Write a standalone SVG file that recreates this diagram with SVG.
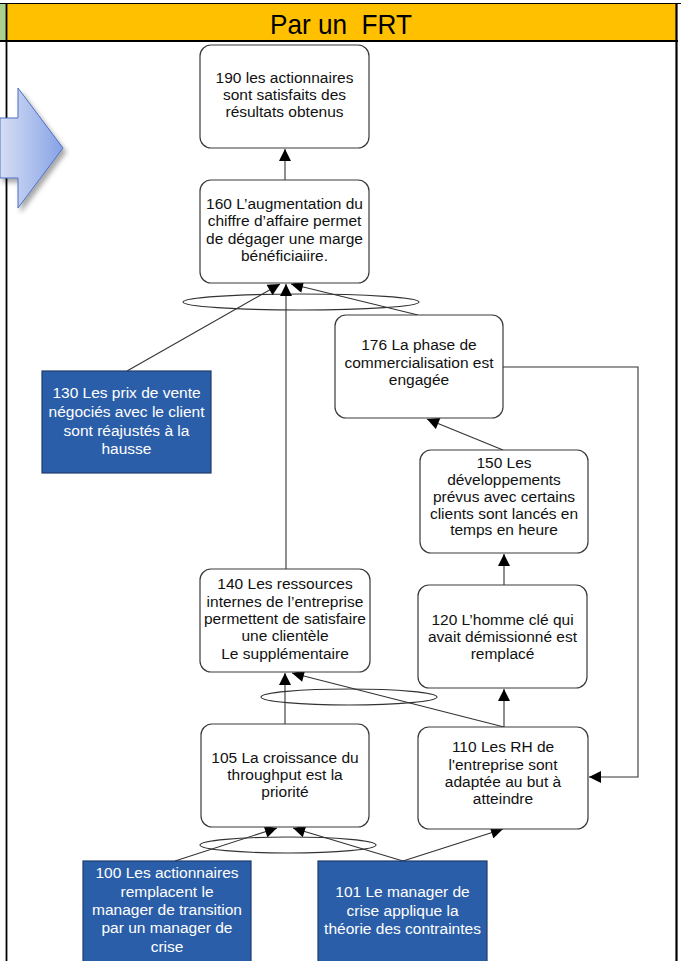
<svg xmlns="http://www.w3.org/2000/svg" width="681" height="961" viewBox="0 0 681 961">
<style>
.nd{fill:#fff;stroke:#3a3a3a;stroke-width:1.2}
.bl{fill:#2b5ea8;stroke:#1d3d6c;stroke-width:1.2}
.t{font-family:"Liberation Sans",Arial,sans-serif;font-size:15.5px;fill:#111;text-anchor:middle}
.tw{font-family:"Liberation Sans",Arial,sans-serif;font-size:15.5px;fill:#fff;text-anchor:middle}
.c{fill:none;stroke:#333;stroke-width:1.1}
.a{marker-end:url(#ah)}
.el{fill:none;stroke:#333;stroke-width:1.1}
</style>
<defs>
<marker id="ah" viewBox="0 0 10 10" refX="10" refY="5" markerWidth="13" markerHeight="12" markerUnits="userSpaceOnUse" orient="auto">
<path d="M0,0 L10,5 L0,10 Z" fill="#000"/>
</marker>
<linearGradient id="ag" x1="0" y1="0" x2="1" y2="0">
<stop offset="0" stop-color="#d6def4"/>
<stop offset="1" stop-color="#86a2e6"/>
</linearGradient>
<filter id="sh" x="-20%" y="-20%" width="150%" height="150%">
<feDropShadow dx="3" dy="4" stdDeviation="2.5" flood-color="#000" flood-opacity="0.35"/>
</filter>
</defs>
<rect width="681" height="961" fill="#fff"/>
<g id="header">
<rect x="0" y="4" width="6" height="37" fill="#a9d08e"/>
<rect x="7" y="4" width="669" height="37" fill="#ffc000"/>
<line x1="0" y1="3.5" x2="681" y2="3.5" stroke="#000" stroke-width="1.2"/>
<line x1="0" y1="41" x2="678" y2="41" stroke="#000" stroke-width="2.2"/>
<line x1="6.5" y1="3" x2="6.5" y2="961" stroke="#000" stroke-width="1.8"/>
<line x1="676.5" y1="3" x2="676.5" y2="961" stroke="#000" stroke-width="2.2"/>
<text x="341" y="34" font-family="'Liberation Sans',Arial,sans-serif" font-size="28" text-anchor="middle" textLength="142" lengthAdjust="spacingAndGlyphs" fill="#000">Par un&#160; FRT</text>
</g>
<g id="bigarrow">
<polygon points="0,118 18,118 18,88 63,148 18,208 18,178 0,178" fill="url(#ag)" stroke="#4d6fc2" stroke-width="1" filter="url(#sh)"/>
</g>
<g id="connectors">
<ellipse class="el" cx="301" cy="302" rx="118" ry="8"/>
<ellipse class="el" cx="349" cy="697" rx="88" ry="8"/>
<ellipse class="el" cx="288" cy="845" rx="88" ry="8"/>
<line class="c a" x1="285" y1="180" x2="285" y2="149"/>
<line class="c a" x1="127" y1="371" x2="280" y2="284"/>
<line class="c a" x1="286" y1="569" x2="286" y2="284"/>
<line class="c a" x1="418" y1="315" x2="291" y2="284"/>
<line class="c a" x1="503" y1="450" x2="427" y2="419"/>
<line class="c a" x1="504" y1="585" x2="504" y2="554"/>
<line class="c a" x1="504" y1="727" x2="504" y2="689"/>
<line class="c a" x1="504" y1="727" x2="292" y2="673"/>
<line class="c a" x1="285" y1="724" x2="285" y2="673"/>
<polyline class="c a" points="503,367 638,367 638,777 589,777"/>
<line class="c a" x1="175" y1="861" x2="277" y2="828"/>
<line class="c a" x1="403" y1="861" x2="293" y2="828"/>
<line class="c a" x1="403" y1="861" x2="503" y2="829"/>
</g>
<g id="n190">
<rect class="nd" x="200" y="45" width="169" height="103" rx="11"/>
<text class="t" x="284.5" y="83">190 les actionnaires</text>
<text class="t" x="284.5" y="100">sont satisfaits des</text>
<text class="t" x="284.5" y="117">résultats obtenus</text>
</g>
<g id="n160">
<rect class="nd" x="200" y="180" width="169" height="103" rx="11"/>
<text class="t" x="284.5" y="208.5">160 L’augmentation du</text>
<text class="t" x="284.5" y="226">chiffre d’affaire permet</text>
<text class="t" x="284.5" y="243.5">de dégager une marge</text>
<text class="t" x="284.5" y="261">bénéficiaiire.</text>
</g>
<g id="n176">
<rect class="nd" x="335" y="315" width="168" height="103" rx="11"/>
<text class="t" x="419" y="350">176 La phase de</text>
<text class="t" x="419" y="367.5">commercialisation est</text>
<text class="t" x="419" y="385">engagée</text>
</g>
<g id="n130">
<rect class="bl" x="42" y="371" width="169" height="102"/>
<text class="tw" x="126.5" y="398">130 Les prix de vente</text>
<text class="tw" x="126.5" y="417">négociés avec le client</text>
<text class="tw" x="126.5" y="436">sont réajustés à la</text>
<text class="tw" x="126.5" y="454">hausse</text>
</g>
<g id="n150">
<rect class="nd" x="420" y="450" width="168" height="103" rx="11"/>
<text class="t" x="504" y="468">150 Les</text>
<text class="t" x="504" y="485">développements</text>
<text class="t" x="504" y="502">prévus avec certains</text>
<text class="t" x="504" y="518.5">clients sont lancés en</text>
<text class="t" x="504" y="535">temps en heure</text>
</g>
<g id="n140">
<rect class="nd" x="200" y="569" width="170" height="103" rx="11"/>
<text class="t" x="285" y="589">140 Les ressources</text>
<text class="t" x="285" y="606.5">internes de l’entreprise</text>
<text class="t" x="285" y="624">permettent de satisfaire</text>
<text class="t" x="285" y="641">une clientèle</text>
<text class="t" x="285" y="658.5">Le supplémentaire</text>
</g>
<g id="n120">
<rect class="nd" x="418" y="585" width="169" height="103" rx="11"/>
<text class="t" x="502.5" y="625">120 L’homme clé qui</text>
<text class="t" x="502.5" y="642">avait démissionné est</text>
<text class="t" x="502.5" y="659">remplacé</text>
</g>
<g id="n105">
<rect class="nd" x="201" y="724" width="168" height="103" rx="11"/>
<text class="t" x="285" y="763">105 La croissance du</text>
<text class="t" x="285" y="780">throughput est la</text>
<text class="t" x="285" y="797">priorité</text>
</g>
<g id="n110">
<rect class="nd" x="418" y="727" width="170" height="102" rx="11"/>
<text class="t" x="503" y="752">110 Les RH de</text>
<text class="t" x="503" y="769.5">l'entreprise sont</text>
<text class="t" x="503" y="787">adaptée au but à</text>
<text class="t" x="503" y="804">atteindre</text>
</g>
<g id="n100">
<rect class="bl" x="83" y="861" width="168" height="110"/>
<text class="tw" x="167" y="878">100 Les actionnaires</text>
<text class="tw" x="167" y="896.5">remplacent le</text>
<text class="tw" x="167" y="915">manager de transition</text>
<text class="tw" x="167" y="933">par un manager de</text>
<text class="tw" x="167" y="951.5">crise</text>
</g>
<g id="n101">
<rect class="bl" x="318" y="861" width="169" height="110"/>
<text class="tw" x="402.5" y="897">101 Le manager de</text>
<text class="tw" x="402.5" y="915.5">crise applique la</text>
<text class="tw" x="402.5" y="934">théorie des contraintes</text>
</g>
</svg>
